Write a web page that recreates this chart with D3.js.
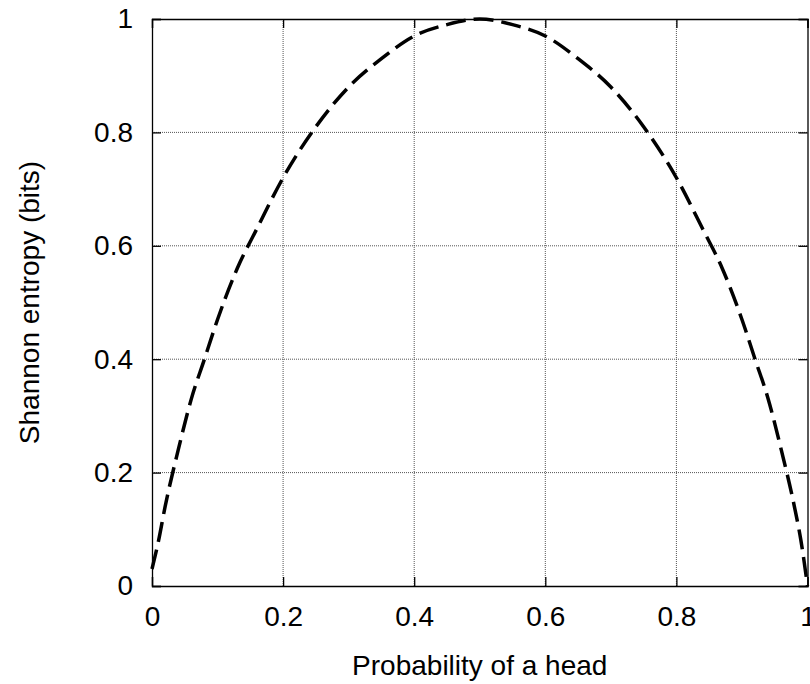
<!DOCTYPE html>
<html>
<head>
<meta charset="utf-8">
<script src="https://cdn.jsdelivr.net/npm/d3@7"></script>
<style>
  body { margin: 0; background: #fff; }
  text { font-family: "Liberation Sans", Arial, sans-serif; fill: #000; }
</style>
</head>
<body>
<script>
// values
var probs   = [0, 0.01, 0.02, 0.04, 0.06, 0.08, 0.1, 0.13, 0.16, 0.2, 0.25, 0.3, 0.35, 0.4, 0.45, 0.5,
               0.55, 0.6, 0.65, 0.7, 0.75, 0.8, 0.84, 0.87, 0.9, 0.92, 0.94, 0.96, 0.98, 0.99, 1];
var entropy = [0.03, 0.08, 0.14, 0.24, 0.33, 0.40, 0.47, 0.56, 0.63, 0.72, 0.81, 0.88, 0.93, 0.97, 0.99, 1.0,
               0.99, 0.97, 0.93, 0.88, 0.81, 0.72, 0.63, 0.56, 0.47, 0.40, 0.33, 0.24, 0.14, 0.08, 0.0];
var xTicks = [0, 0.2, 0.4, 0.6, 0.8, 1];
var yTicks = [0, 0.2, 0.4, 0.6, 0.8, 1];

var width = 810, height = 684;
var margin = {left: 152, right: 2.5, top: 19, bottom: 98};

var svg = d3.select("body").append("svg")
	.attr("width", width)
	.attr("height", height);

var x = d3.scaleLinear().domain([0, 1]).range([margin.left, width - margin.right]);
var y = d3.scaleLinear().domain([0, 1]).range([height - margin.bottom, margin.top]);

// dotted grid
svg.append("g").selectAll("line.gx")
	.data(xTicks.slice(1, -1))
	.enter().append("line")
	.attr("x1", function(d) { return x(d); })
	.attr("x2", function(d) { return x(d); })
	.attr("y1", y(0)).attr("y2", y(1))
	.style("stroke", "#555").style("stroke-width", 1).style("stroke-dasharray", "1,1");
svg.append("g").selectAll("line.gy")
	.data(yTicks.slice(1, -1))
	.enter().append("line")
	.attr("y1", function(d) { return y(d); })
	.attr("y2", function(d) { return y(d); })
	.attr("x1", x(0)).attr("x2", x(1))
	.style("stroke", "#555").style("stroke-width", 1).style("stroke-dasharray", "1,1");

// axes with inward ticks, mirrored on top/right
var tl = 9;
svg.append("g").attr("transform", "translate(0," + y(0) + ")")
	.call(d3.axisBottom(x).tickValues(xTicks).tickSize(-tl).tickPadding(20).tickFormat(d3.format("")));
svg.append("g").attr("transform", "translate(0," + y(1) + ")")
	.call(d3.axisTop(x).tickValues(xTicks).tickSize(-tl).tickFormat(""));
svg.append("g").attr("transform", "translate(" + x(0) + ",0)")
	.call(d3.axisLeft(y).tickValues(yTicks).tickSize(-tl).tickPadding(19).tickFormat(d3.format("")));
svg.append("g").attr("transform", "translate(" + x(1) + ",0)")
	.call(d3.axisRight(y).tickValues(yTicks).tickSize(-tl).tickFormat(""));

svg.selectAll(".domain").style("stroke", "#000").style("stroke-width", 1.3);
svg.selectAll(".tick line").style("stroke", "#000").style("stroke-width", 1.3);
svg.selectAll(".tick text").style("font-size", "28px").style("font-family", "'Liberation Sans', Arial, sans-serif");

// curve
var line = d3.line()
	.x(function(d, i) { return x(probs[i]); })
	.y(function(d) { return y(d); })
	.curve(d3.curveMonotoneX);

svg.append("path")
	.datum(entropy)
	.attr("d", line)
	.style("fill", "none")
	.style("stroke", "#000")
	.style("stroke-width", 3.5)
	.style("stroke-dasharray", "20,8");

// axis titles
svg.append("text")
	.attr("x", (x(0) + x(1)) / 2)
	.attr("y", 675)
	.attr("text-anchor", "middle")
	.style("font-size", "28px")
	.text("Probability of a head");

svg.append("text")
	.attr("transform", "translate(39," + ((y(0) + y(1)) / 2) + ") rotate(-90)")
	.attr("text-anchor", "middle")
	.style("font-size", "28px")
	.text("Shannon entropy (bits)");
</script>
</body>
</html>
